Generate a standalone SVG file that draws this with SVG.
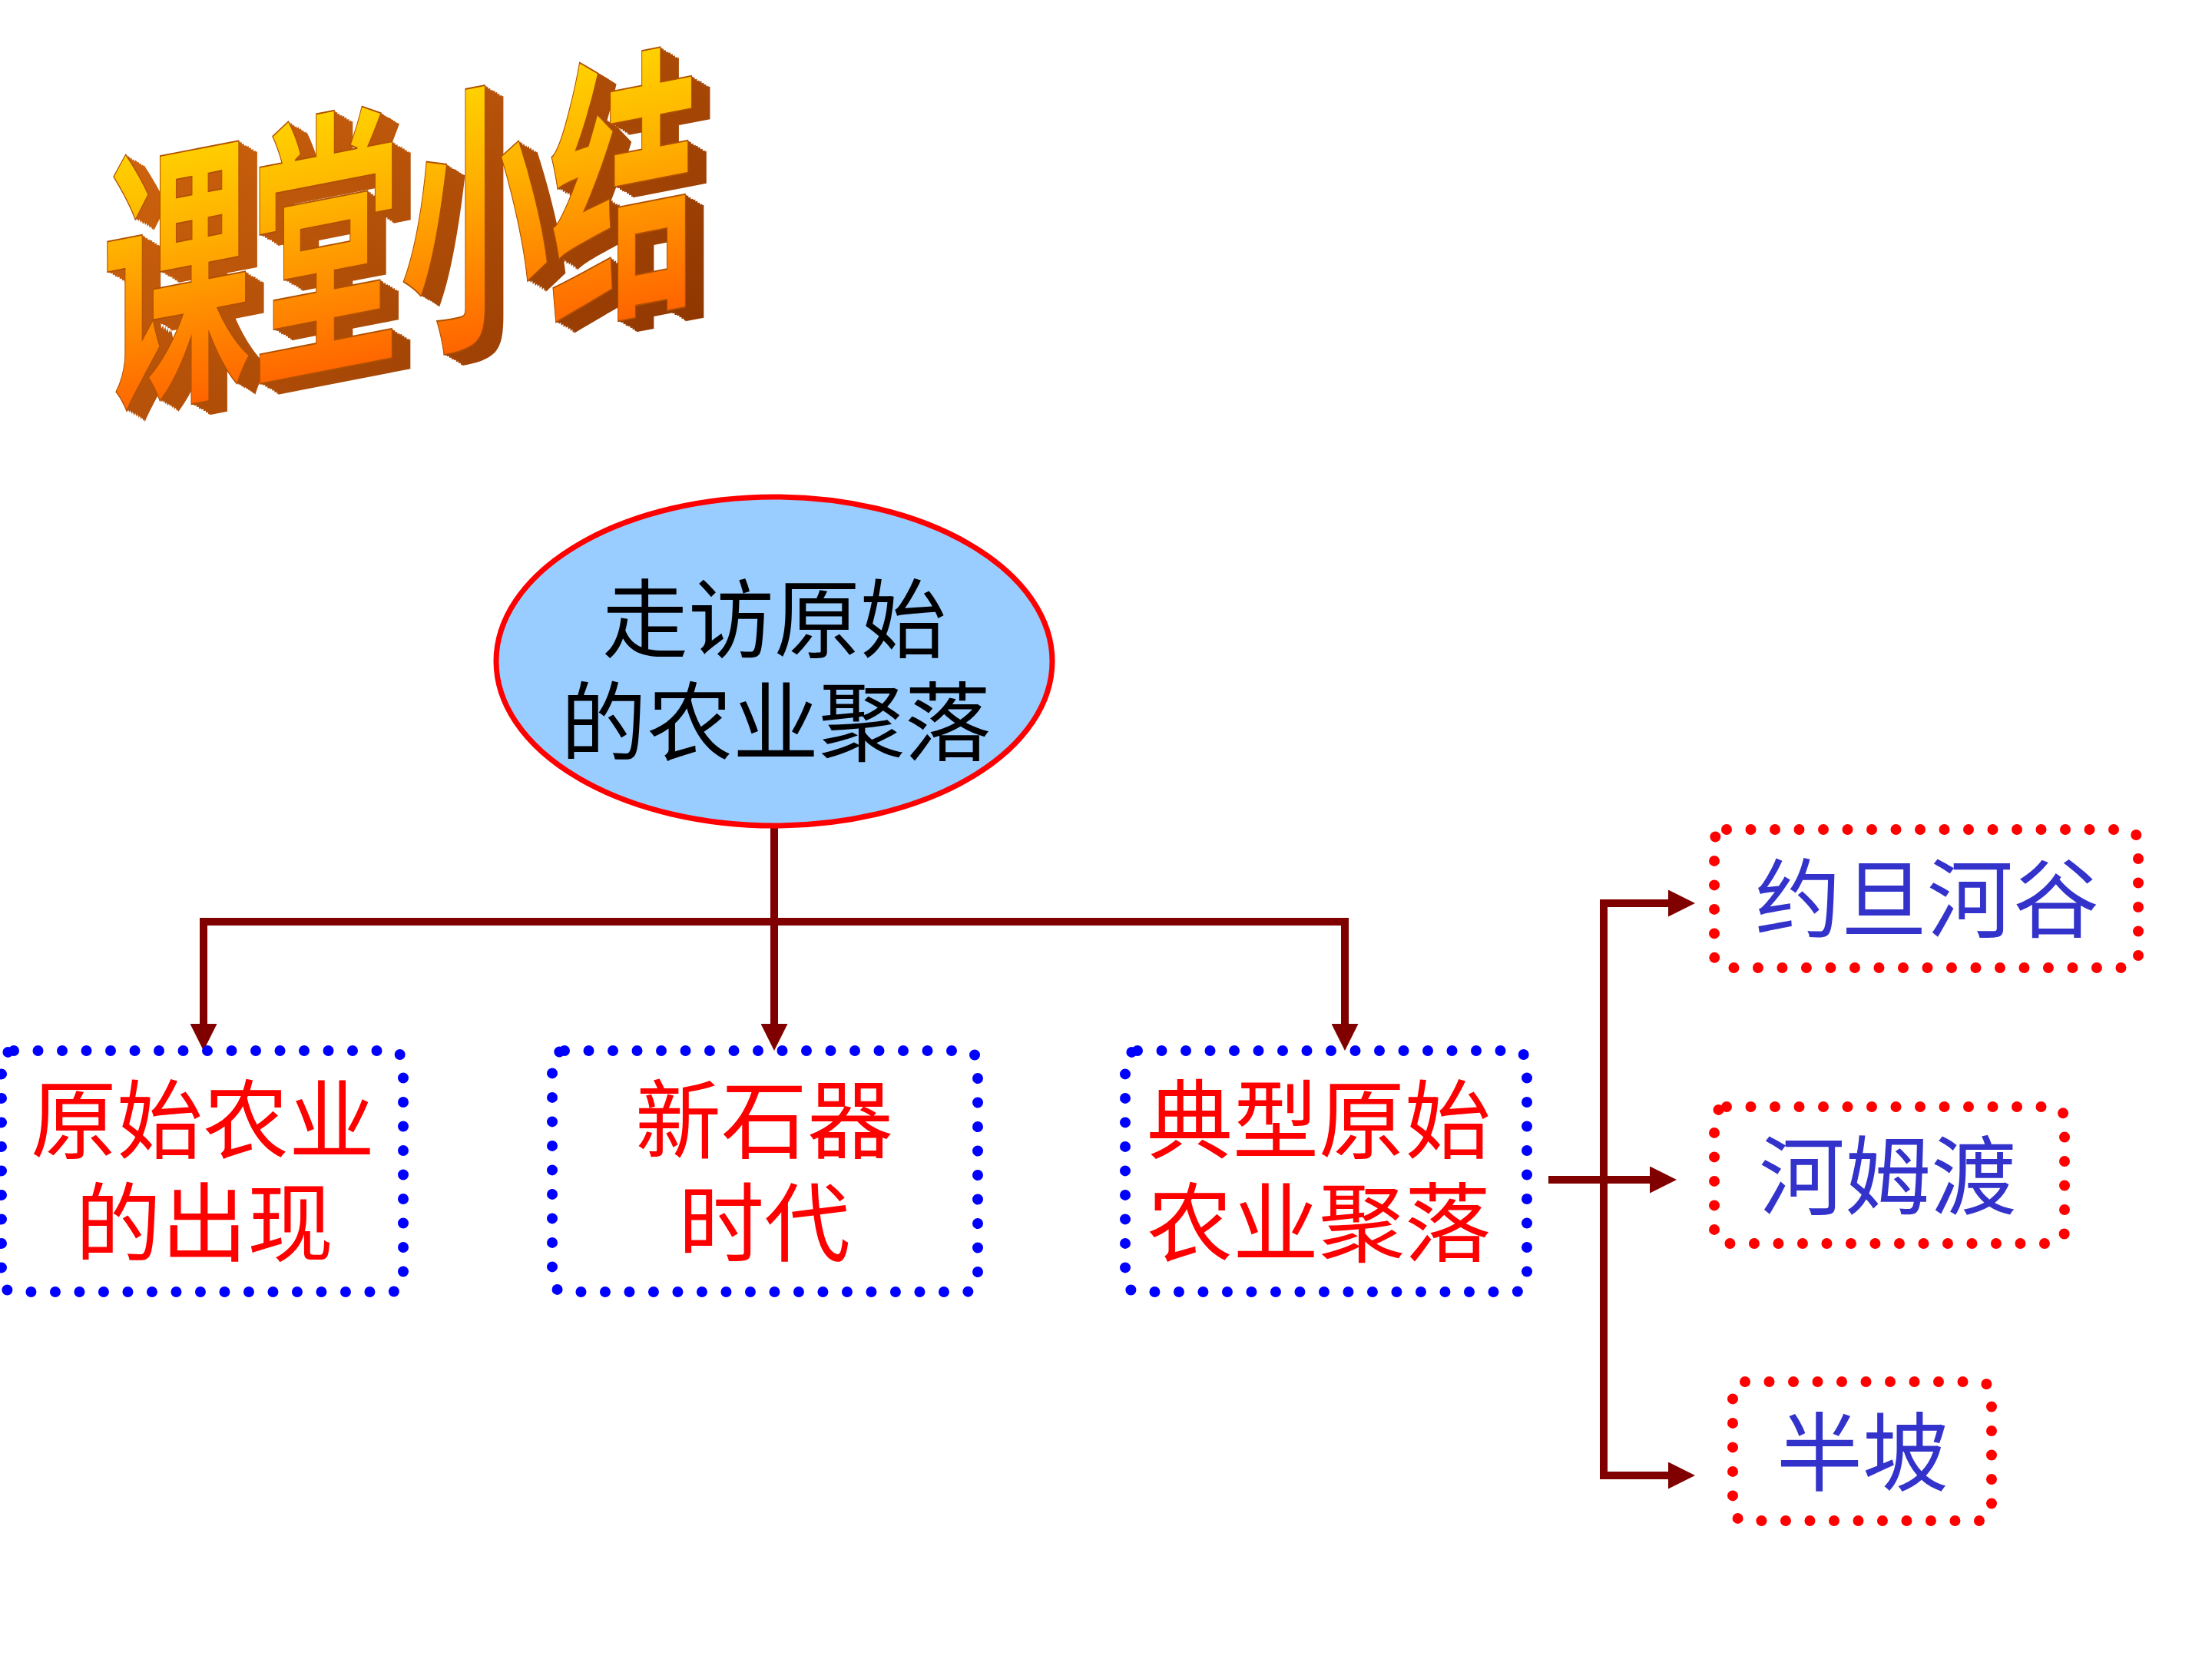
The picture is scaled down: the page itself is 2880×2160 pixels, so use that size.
<svg xmlns="http://www.w3.org/2000/svg" width="2880" height="2160" viewBox="0 0 2880 2160">
<defs>
  <linearGradient id="gFront" x1="0" y1="0" x2="0" y2="1">
    <stop offset="0" stop-color="#FFF000"/>
    <stop offset="0.45" stop-color="#FFB000"/>
    <stop offset="1" stop-color="#FF4A00"/>
  </linearGradient>
  <linearGradient id="gSide" x1="0" y1="0" x2="1" y2="1">
    <stop offset="0" stop-color="#D86A10"/>
    <stop offset="1" stop-color="#8A3300"/>
  </linearGradient>
  <marker id="arr" markerUnits="userSpaceOnUse" markerWidth="35" markerHeight="35" viewBox="0 0 35 35" refX="0" refY="17.5" orient="auto-start-reverse">
    <path d="M0,0 L35,17.5 L0,35 Z" fill="#800000"/>
  </marker>
  <text id="tt" x="0" y="0" font-family="'Noto Sans CJK SC','Noto Sans CJK JP',sans-serif" font-size="194" font-weight="700">课堂小结</text>
</defs>
<style>
  .cjk{font-family:"Liberation Sans","Noto Sans CJK SC","Noto Sans CJK JP",sans-serif;font-size:112px;text-anchor:middle}
  .red{fill:#FF0000}
  .blue{fill:#3333CC}
  .blk{fill:#000000}
  .bdot{fill:none;stroke:#0000FF;stroke-width:14;stroke-linecap:round;stroke-dasharray:0 31.5}
  .rdot{fill:none;stroke:#FF0000;stroke-width:14;stroke-linecap:round;stroke-dasharray:0 31.5}
  .conn{fill:none;stroke:#800000;stroke-width:10;stroke-linejoin:miter}
  .side{fill:url(#gSide)}
</style>
<rect width="2880" height="2160" fill="#FFFFFF"/>

<g id="title">
  <use href="#tt" class="side" transform="translate(157,530) skewY(-11) scale(1,1.9)" fill="#6E2800"/>
  <use href="#tt" class="side" transform="translate(155,529) skewY(-11) scale(1,1.9)"/>
  <use href="#tt" class="side" transform="translate(152,527) skewY(-11) scale(1,1.9)"/>
  <use href="#tt" class="side" transform="translate(149,525) skewY(-11) scale(1,1.9)"/>
  <use href="#tt" class="side" transform="translate(146,523) skewY(-11) scale(1,1.9)"/>
  <use href="#tt" class="side" transform="translate(143,522) skewY(-11) scale(1,1.9)"/>
  <use href="#tt" class="side" transform="translate(140,520) skewY(-11) scale(1,1.9)"/>
  <use href="#tt" class="side" transform="translate(137,518) skewY(-11) scale(1,1.9)"/>
  <use href="#tt" class="side" transform="translate(135,517) skewY(-11) scale(1,1.9)"/>
  <use href="#tt" fill="url(#gFront)" stroke="#B05000" stroke-width="1" transform="translate(133,516) skewY(-11) scale(1,1.9)"/>
</g>

<g id="connectors">
  <path class="conn" d="M1008,1077 V1333" marker-end="url(#arr)"/>
  <path class="conn" d="M265,1333 V1200 H1751 V1333" marker-start="url(#arr)" marker-end="url(#arr)"/>
  <path class="conn" d="M2172,1176 H2088 V1921 H2172" marker-start="url(#arr)" marker-end="url(#arr)"/>
  <path class="conn" d="M2016,1536 H2148" marker-end="url(#arr)"/>
</g>

<g id="root">
  <ellipse cx="1008" cy="861" rx="362" ry="214" fill="#99CCFF" stroke="#FF0000" stroke-width="7"/>
  <text class="cjk blk"><tspan x="1008" y="848">走访原始</tspan><tspan x="1010" y="982">的农业聚落</tspan></text>
</g>

<g id="box1">
  <rect class="bdot" x="2" y="1368" width="523" height="314" rx="16"/>
  <text class="cjk red"><tspan x="264" y="1500">原始农业</tspan><tspan x="266" y="1634">的出现</tspan></text>
</g>

<g id="box2">
  <rect class="bdot" x="719" y="1368" width="554" height="314" rx="16"/>
  <text class="cjk red"><tspan x="995" y="1500">新石器</tspan><tspan x="995" y="1634">时代</tspan></text>
</g>

<g id="box3">
  <rect class="bdot" x="1465" y="1368" width="523" height="314" rx="16"/>
  <text class="cjk red"><tspan x="1717" y="1500">典型原始</tspan><tspan x="1717" y="1634">农业聚落</tspan></text>
</g>

<g id="box4">
  <rect class="rdot" x="2232" y="1080" width="552" height="180" rx="16"/>
  <text class="cjk blue" x="2509" y="1212">约旦河谷</text>
</g>

<g id="box5">
  <rect class="rdot" x="2232" y="1441" width="456" height="178" rx="16"/>
  <text class="cjk blue" x="2458" y="1573">河姆渡</text>
</g>

<g id="box6">
  <rect class="rdot" x="2256" y="1799" width="337" height="181" rx="16"/>
  <text class="cjk blue" x="2425" y="1933">半坡</text>
</g>
</svg>
